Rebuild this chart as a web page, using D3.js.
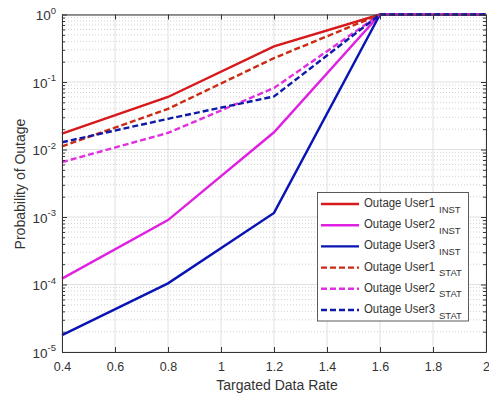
<!DOCTYPE html>
<html>
<head>
<meta charset="utf-8">
<script src="https://cdn.jsdelivr.net/npm/d3@7"></script>
<style>
  html, body { margin: 0; padding: 0; background: #fff; }
  svg { display: block; font-family: "Liberation Sans", Arial, Helvetica, sans-serif; }
</style>
</head>
<body>
<svg id="chart" width="489" height="394"></svg>
<script>
// Targeted data rates (x values)
const rates = [0.4, 0.8, 1.2, 1.6, 2.0];

// Outage probabilities per user, instantaneous and statistical CSI
const user1Inst = [0.0172, 0.060, 0.336, 1, 1];
const user2Inst = [1.22e-4, 9.0e-4, 0.018, 1, 1];
const user3Inst = [1.78e-5, 1.04e-4, 1.15e-3, 1, 1];
const user1Stat = [0.0111, 0.040, 0.226, 1, 1];
const user2Stat = [0.0065, 0.0176, 0.0815, 1, 1];
const user3Stat = [0.0128, 0.0285, 0.061, 1, 1];

const xTicks = [0.4, 0.6, 0.8, 1, 1.2, 1.4, 1.6, 1.8, 2];
const yExponents = [0, -1, -2, -3, -4, -5];

const seriesNames = ["Outage User1", "Outage User2", "Outage User3", "Outage User1", "Outage User2", "Outage User3"];
const seriesSubs = ["INST", "INST", "INST", "STAT", "STAT", "STAT"];
const seriesColors = ["#d7191c", "#e020e0", "#0a14b4", "#cc2a12", "#e030e0", "#101aa8"];
const seriesValues = [user1Inst, user2Inst, user3Inst, user1Stat, user2Stat, user3Stat];
const seriesDashed = [false, false, false, true, true, true];

const svg = d3.select("#chart");
const plotL = 62, plotR = 486, plotT = 14.5, plotB = 352;
const ink = "#333";

const x = d3.scaleLinear().domain([0.4, 2]).range([plotL, plotR]);
const y = d3.scaleLog().domain([1e-5, 1]).range([plotB, plotT]);

// background
svg.append("rect").attr("x", plotL).attr("y", plotT)
  .attr("width", plotR - plotL).attr("height", plotB - plotT).attr("fill", "#fff");

const grid = svg.append("g");
// minor horizontal grid (dotted)
for (let e = -5; e < 0; e++) {
  for (let m = 2; m <= 9; m++) {
    const v = m * Math.pow(10, e);
    grid.append("line")
      .attr("x1", plotL).attr("x2", plotR)
      .attr("y1", y(v)).attr("y2", y(v))
      .attr("stroke", "#c8c8c8").attr("stroke-width", 0.8)
      .attr("stroke-dasharray", "1,2");
  }
}
// major horizontal grid
yExponents.forEach(e => {
  grid.append("line")
    .attr("x1", plotL).attr("x2", plotR)
    .attr("y1", y(Math.pow(10, e))).attr("y2", y(Math.pow(10, e)))
    .attr("stroke", "#e0e0e0").attr("stroke-width", 1);
});
// major vertical grid
xTicks.forEach(t => {
  grid.append("line")
    .attr("x1", x(t)).attr("x2", x(t))
    .attr("y1", plotT).attr("y2", plotB)
    .attr("stroke", "#e0e0e0").attr("stroke-width", 1);
});

// curves
const line = d3.line().x((d, i) => x(rates[i])).y(d => y(d));
const curves = svg.append("g");
seriesValues.forEach((vals, i) => {
  curves.append("path")
    .datum(vals)
    .attr("d", line)
    .attr("fill", "none")
    .attr("stroke", seriesColors[i])
    .attr("stroke-width", 2.4)
    .attr("stroke-dasharray", seriesDashed[i] ? "6,3" : null);
});

// axes
const xAxis = d3.axisBottom(x).tickValues(xTicks).tickSize(-5).tickSizeOuter(0)
  .tickFormat(d => d3.format("")(+d.toFixed(1)));
const gx = svg.append("g").attr("transform", `translate(0,${plotB})`).call(xAxis);
gx.select(".domain").attr("stroke", ink);
gx.selectAll(".tick line").attr("stroke", ink);
gx.selectAll(".tick text").attr("fill", ink).attr("font-size", 12.5).attr("dy", "1.28em");

const gxTop = svg.append("g").attr("transform", `translate(0,${plotT})`)
  .call(d3.axisTop(x).tickValues(xTicks).tickSize(-5).tickSizeOuter(0).tickFormat(""));
gxTop.select(".domain").attr("stroke", ink);
gxTop.selectAll(".tick line").attr("stroke", ink);

const minorY = [];
for (let e = -5; e < 0; e++) for (let m = 2; m <= 9; m++) minorY.push(m * Math.pow(10, e));
const majorY = yExponents.map(e => Math.pow(10, e));

const gy = svg.append("g").attr("transform", `translate(${plotL},0)`)
  .call(d3.axisLeft(y).tickValues(majorY).tickSize(-5).tickSizeOuter(0).tickFormat(""));
gy.select(".domain").attr("stroke", ink);
gy.selectAll(".tick line").attr("stroke", ink);
svg.append("g").attr("transform", `translate(${plotL},0)`)
  .call(d3.axisLeft(y).tickValues(minorY).tickSize(-3).tickFormat(""))
  .call(g => { g.select(".domain").remove(); g.selectAll("line").attr("stroke", ink); });

const gyR = svg.append("g").attr("transform", `translate(${plotR},0)`)
  .call(d3.axisRight(y).tickValues(majorY).tickSize(-5).tickSizeOuter(0).tickFormat(""));
gyR.select(".domain").attr("stroke", ink);
gyR.selectAll(".tick line").attr("stroke", ink);
svg.append("g").attr("transform", `translate(${plotR},0)`)
  .call(d3.axisRight(y).tickValues(minorY).tickSize(-3).tickFormat(""))
  .call(g => { g.select(".domain").remove(); g.selectAll("line").attr("stroke", ink); });

// y tick labels: 10^e
const yl = svg.append("g");
yExponents.forEach(e => {
  const t = yl.append("text")
    .attr("x", 56).attr("y", y(Math.pow(10, e)) + 5.5)
    .attr("text-anchor", "end").attr("fill", ink).attr("font-size", 13.5);
  t.append("tspan").text("10");
  t.append("tspan").attr("dy", -6.5).attr("font-size", 9.5).text(String(e));
});

// axis titles
svg.append("text")
  .attr("x", 277).attr("y", 390)
  .attr("text-anchor", "middle").attr("fill", ink).attr("font-size", 14)
  .text("Targated Data Rate");
svg.append("text")
  .attr("transform", `translate(25,184) rotate(-90)`)
  .attr("text-anchor", "middle").attr("fill", ink).attr("font-size", 14)
  .text("Probability of Outage");

// legend
const lg = svg.append("g");
lg.append("rect").attr("x", 317.5).attr("y", 192.5).attr("width", 151).attr("height", 128.5)
  .attr("fill", "#fff").attr("stroke", ink).attr("stroke-width", 0.8);
seriesNames.forEach((name, i) => {
  const cy = 204 + i * 21.2;
  lg.append("line")
    .attr("x1", 321).attr("x2", 359).attr("y1", cy).attr("y2", cy)
    .attr("stroke", seriesColors[i]).attr("stroke-width", 2.4)
    .attr("stroke-dasharray", seriesDashed[i] ? "6,3" : null);
  const t = lg.append("text").attr("x", 364).attr("y", cy + 3)
    .attr("fill", ink).attr("font-size", 12.5);
  t.append("tspan").attr("textLength", 71).attr("lengthAdjust", "spacingAndGlyphs").text(name);
  t.append("tspan").attr("x", 439).attr("dy", 5.5).attr("font-size", 9.5).text(seriesSubs[i]);
});
</script>
</body>
</html>
